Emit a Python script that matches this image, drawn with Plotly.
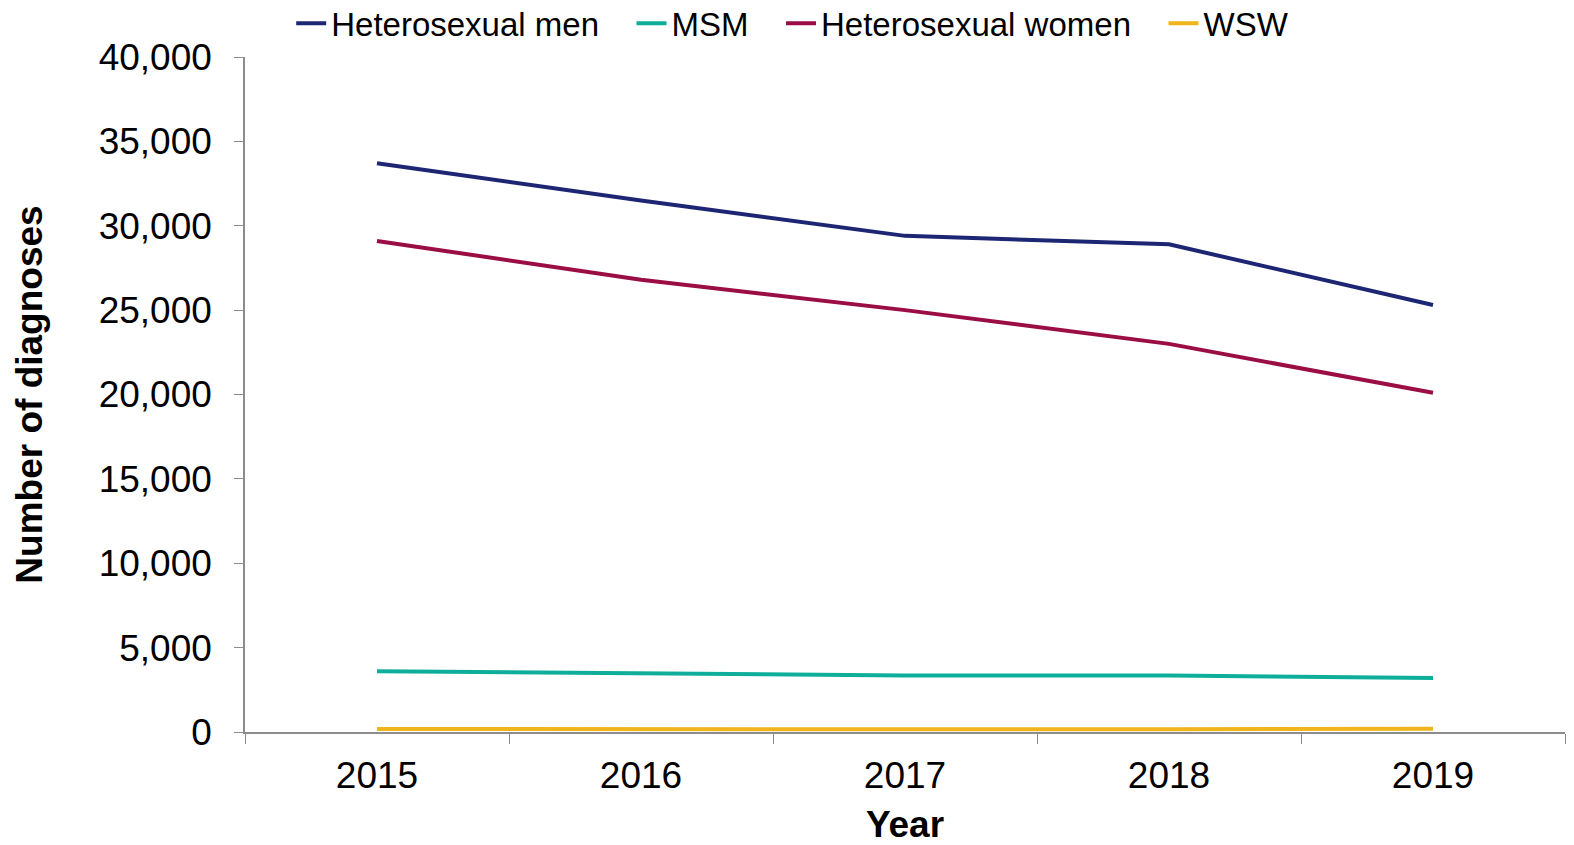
import plotly.graph_objects as go

years = ["2015", "2016", "2017", "2018", "2019"]

hetero_men = [33700, 31500, 29400, 28900, 25300]
msm = [3600, 3500, 3350, 3350, 3200]
hetero_women = [29100, 26800, 25000, 23000, 20100]
wsw = [180, 170, 150, 160, 190]

series = [
    ("Heterosexual men", hetero_men, "#1C2673"),  # navy
    ("MSM", msm, "#0FAE9B"),  # teal
    ("Heterosexual women", hetero_women, "#9B0D45"),  # crimson
    ("WSW", wsw, "#F0B41C"),  # gold
]

font_family = "Liberation Sans, Arial, sans-serif"
pad = "\u00a0\u00a0\u00a0"  # widen the gaps between legend items

fig = go.Figure()
for name, values, colour in series:
    fig.add_trace(
        go.Scatter(
            x=years,
            y=values,
            name=name + pad,
            mode="lines",
            line=dict(color=colour, width=4),
        )
    )

fig.update_layout(
    width=1574,
    height=845,
    paper_bgcolor="white",
    plot_bgcolor="white",
    font=dict(family=font_family, color="black"),
    margin={"l": 245, "r": 9, "t": 57, "b": 113, "autoexpand": False},
    legend=dict(
        orientation="h",
        x=0.035,
        y=1.05,
        xanchor="left",
        yanchor="middle",
        font=dict(size=33),
        tracegroupgap=0,
        bgcolor="rgba(0,0,0,0)",
    ),
    showlegend=True,
)

fig.update_xaxes(
    type="category",
    range=[-0.5, 4.5],
    automargin=False,
    showgrid=False,
    showline=True,
    linecolor="#8C8C8C",
    linewidth=1.5,
    ticks="outside",
    tickson="boundaries",
    ticklen=10,
    tickcolor="#8C8C8C",
    tickfont=dict(size=37),
    ticklabelstandoff=10,
    title=dict(text="<b>Year</b>", font=dict(size=37), standoff=28),
)

fig.update_yaxes(
    range=[0, 40000],
    tick0=0,
    dtick=5000,
    tickformat=",d",
    automargin=False,
    showgrid=False,
    zeroline=False,
    showline=True,
    linecolor="#8C8C8C",
    linewidth=1.5,
    ticks="outside",
    ticklen=9,
    tickcolor="#8C8C8C",
    tickfont=dict(size=37),
    ticklabelstandoff=15,
    title=dict(text="<b>Number of diagnoses</b>", font=dict(size=37), standoff=45),
)

# drop the default 8px page margin so the figure fills the window exactly
fig.write_html(
    "out.html",
    config={"displayModeBar": False},
    post_script="document.body.style.margin = '0';",
)
